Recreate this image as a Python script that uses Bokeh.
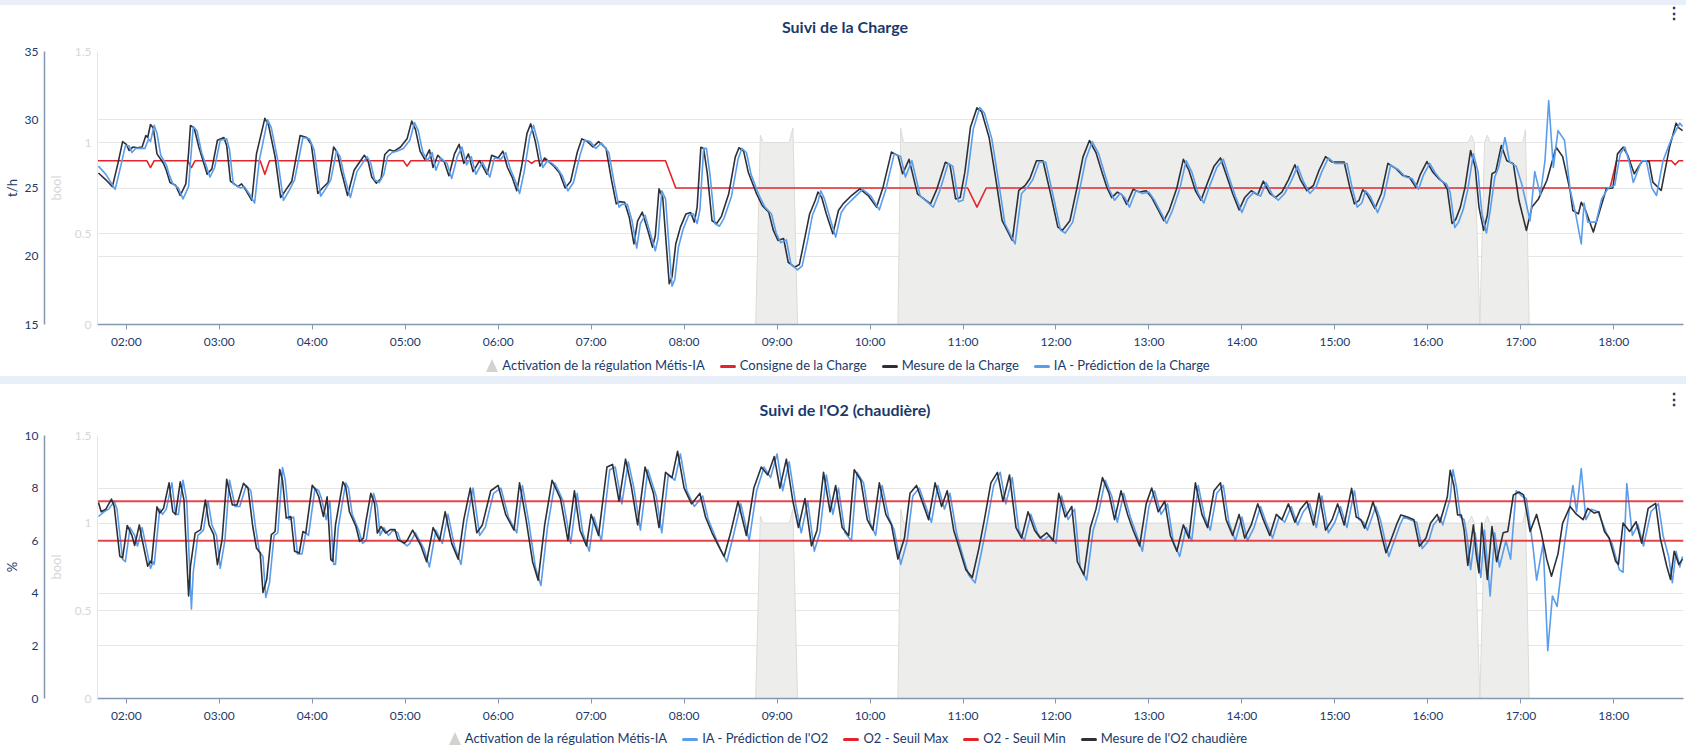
from bokeh.plotting import figure
from bokeh.models import (Range1d, LinearAxis, FixedTicker, Grid, Div, NumeralTickFormatter)
from bokeh.layouts import column
from bokeh.embed import file_html
from bokeh.resources import INLINE

# ---------------- data ----------------
hour_ticks = list(range(2, 19))
hour_labels = ["02:00", "03:00", "04:00", "05:00", "06:00", "07:00", "08:00", "09:00", "10:00",
               "11:00", "12:00", "13:00", "14:00", "15:00", "16:00", "17:00", "18:00"]

# Activation de la régulation Métis-IA (bool)
activation_t = [1.69, 8.77, 8.82, 8.85, 9.13, 9.17, 9.22, 10.30, 10.33, 10.36, 16.43, 16.47, 16.50,
                16.56, 16.61, 16.64, 16.67, 17.02, 17.05, 17.09, 18.75]
activation_v = [0, 0, 1.04, 1.0, 1.0, 1.08, 0, 0, 1.08, 1.0, 1.0, 1.04, 1.0,
                0, 1.0, 1.04, 1.0, 1.0, 1.07, 0, 0]

# Consigne de la Charge (t/h)
consigne_t = [1.69, 2.22, 2.26, 2.30, 2.66, 2.70, 2.74, 3.44, 3.49, 3.54, 4.98, 5.02, 5.06,
              6.32, 6.36, 6.40, 7.80, 7.91, 11.05, 11.15, 11.25, 17.96, 18.03, 18.62, 18.66, 18.70, 18.75]
consigne_v = [27, 27, 26.5, 27, 27, 26.5, 27, 27, 26.0, 27, 27, 26.6, 27,
              27, 26.8, 27, 27, 25, 25, 23.6, 25, 25, 27, 27, 26.7, 27, 27]

# Mesure de la Charge (t/h)
charge_t = [1.70, 1.78, 1.85, 1.91, 1.96, 2.00, 2.03, 2.07, 2.12, 2.17, 2.21, 2.23, 2.26, 2.29, 2.33,
            2.40, 2.43, 2.47, 2.53, 2.58, 2.64, 2.67, 2.69, 2.73, 2.78, 2.87, 2.92, 2.98, 3.05, 3.08,
            3.12, 3.20, 3.24, 3.29, 3.35, 3.40, 3.49, 3.53, 3.60, 3.66, 3.72, 3.78, 3.87, 3.94, 3.99,
            4.06, 4.11, 4.17, 4.23, 4.27, 4.31, 4.38, 4.45, 4.56, 4.60, 4.64, 4.69, 4.74, 4.78, 4.83,
            4.88, 4.95, 5.02, 5.07, 5.11, 5.16, 5.21, 5.26, 5.30, 5.35, 5.42, 5.47, 5.53, 5.58, 5.63,
            5.68, 5.73, 5.80, 5.88, 5.93, 6.00, 6.05, 6.10, 6.15, 6.20, 6.25, 6.31, 6.35, 6.40, 6.45,
            6.50, 6.55, 6.60, 6.66, 6.72, 6.78, 6.85, 6.90, 6.96, 7.02, 7.08, 7.16, 7.22, 7.27, 7.30,
            7.36, 7.41, 7.46, 7.50, 7.55, 7.61, 7.66, 7.69, 7.73, 7.77, 7.84, 7.87, 7.91, 7.96, 8.02,
            8.07, 8.11, 8.14, 8.18, 8.21, 8.25, 8.30, 8.35, 8.40, 8.48, 8.55, 8.59, 8.64, 8.69, 8.78,
            8.84, 8.91, 8.96, 9.01, 9.07, 9.12, 9.19, 9.24, 9.30, 9.35, 9.41, 9.44, 9.48, 9.53, 9.60,
            9.66, 9.71, 9.80, 9.89, 9.98, 10.07, 10.14, 10.23, 10.30, 10.35, 10.42, 10.51, 10.58, 10.65,
            10.72, 10.81, 10.86, 10.92, 10.97, 11.02, 11.08, 11.15, 11.20, 11.28, 11.35, 11.42, 11.53,
            11.60, 11.67, 11.72, 11.79, 11.86, 11.95, 12.02, 12.07, 12.15, 12.22, 12.29, 12.36, 12.43,
            12.50, 12.55, 12.60, 12.66, 12.71, 12.76, 12.83, 12.90, 12.97, 13.03, 13.10, 13.16, 13.22,
            13.30, 13.37, 13.43, 13.50, 13.56, 13.62, 13.70, 13.77, 13.83, 13.90, 13.97, 14.03, 14.10,
            14.17, 14.23, 14.30, 14.36, 14.43, 14.50, 14.57, 14.63, 14.70, 14.77, 14.83, 14.90, 14.97,
            15.03, 15.10, 15.16, 15.21, 15.26, 15.30, 15.35, 15.43, 15.50, 15.57, 15.66, 15.73, 15.80,
            15.87, 15.92, 15.99, 16.05, 16.12, 16.17, 16.21, 16.26, 16.30, 16.35, 16.40, 16.46, 16.51,
            16.55, 16.60, 16.64, 16.69, 16.73, 16.79, 16.85, 16.92, 16.98, 17.06, 17.12, 17.19, 17.28,
            17.38, 17.45, 17.53, 17.56, 17.62, 17.65, 17.70, 17.78, 17.85, 17.92, 17.99, 18.04, 18.10,
            18.15, 18.22, 18.27, 18.31, 18.38, 18.42, 18.51, 18.60, 18.67, 18.70, 18.74]
charge_v = [26.1, 25.6, 25.1, 26.8, 28.4, 28.2, 27.75, 28.0, 27.95, 28.0, 28.85, 28.7, 29.65, 29.4, 27.5,
            26.8, 26.3, 25.4, 25.2, 24.45, 25.3, 27.6, 29.58, 29.4, 28.0, 26.0, 26.4, 28.5, 28.7, 28.1,
            25.5, 25.1, 25.3, 24.8, 24.1, 27.5, 30.1, 29.6, 27.3, 24.3, 24.9, 25.5, 28.85, 28.7, 28.2,
            24.6, 25.0, 25.4, 28.0, 27.6, 26.3, 24.45, 26.3, 27.4, 27.0, 25.8, 25.35, 25.7, 27.45, 27.8,
            27.7, 28.0, 28.6, 29.9, 29.3, 27.7, 27.1, 27.8, 26.5, 27.4, 26.9, 25.9, 27.5, 28.2, 26.8,
            27.5, 26.2, 27.0, 26.0, 27.4, 27.2, 27.7, 26.5, 25.8, 24.8, 26.5, 29.0, 29.7, 28.4, 26.6,
            27.2, 26.9, 26.6, 26.1, 25.0, 25.5, 27.6, 28.6, 28.4, 28.0, 28.4, 27.9, 25.55, 23.84, 24.0,
            23.96, 22.86, 20.9, 22.6, 23.23, 21.89, 20.67, 21.5, 24.94, 24.3, 17.98, 18.5, 20.9, 22.13, 23.1,
            23.2, 22.5, 23.6, 27.99, 27.9, 26.04, 22.6, 22.4, 22.9, 24.57, 27.26, 27.95, 27.7, 26.16, 24.57,
            23.72, 23.23, 21.89, 21.16, 21.3, 19.56, 19.2, 19.4, 21.4, 23.1, 24.08, 24.7, 24.3, 23.1, 21.64,
            23.35, 23.84, 24.45, 24.94, 24.45, 23.6, 25.06, 27.63, 27.38, 26.04, 27.1, 24.57, 24.2, 23.84,
            24.94, 26.89, 26.7, 24.2, 24.3, 26.16, 29.45, 30.87, 30.6, 28.72, 25.8, 22.62, 21.16,
            24.82, 25.2, 25.7, 27.0, 27.0, 24.33, 22.13, 21.9, 22.6, 24.82, 27.26, 28.48, 27.6,
            26.04, 25.0, 24.3, 24.7, 24.5, 23.8, 24.9, 24.7, 24.8, 24.3, 23.4, 22.6, 23.4,
            25.0, 27.1, 26.3, 24.8, 24.1, 25.2, 26.6, 27.2, 26.0, 24.6, 23.4, 24.3, 24.8,
            24.5, 25.5, 24.6, 24.3, 24.7, 25.6, 26.7, 25.6, 24.8, 25.2, 26.3, 27.3, 26.9,
            26.9, 26.9, 25.06, 23.84, 24.1, 24.87, 24.5, 23.5, 24.6, 26.8, 26.4, 25.92, 25.8,
            25.06, 26.0, 26.94, 26.2, 25.67, 25.4, 24.9, 22.4, 22.7, 23.6, 25.06, 27.75, 26.5,
            23.6, 21.9, 23.0, 26.04, 26.2, 28.11, 27.0, 26.77, 24.08, 21.9, 23.6, 24.2, 25.55,
            27.99, 27.3, 24.82, 23.35, 23.1, 23.96, 23.3, 21.77, 23.35, 24.94, 25.0, 27.5, 27.99,
            27.4, 26.04, 26.6, 27.0, 26.95, 25.43, 24.82, 27.99, 29.75, 29.4, 29.21]

# IA - Prédiction de la Charge (t/h)
charge_pred_t = [1.70, 1.78, 1.88, 1.94, 1.99, 2.03, 2.06, 2.10, 2.15, 2.20, 2.24, 2.26, 2.30, 2.33, 2.37,
                 2.43, 2.46, 2.50, 2.56, 2.61, 2.67, 2.70, 2.72, 2.76, 2.81, 2.90, 2.95, 3.01, 3.08, 3.11,
                 3.15, 3.23, 3.27, 3.32, 3.38, 3.43, 3.52, 3.56, 3.63, 3.69, 3.75, 3.81, 3.90, 3.97, 4.02,
                 4.09, 4.14, 4.20, 4.26, 4.30, 4.34, 4.41, 4.48, 4.59, 4.63, 4.67, 4.72, 4.77, 4.81, 4.86,
                 4.91, 4.98, 5.05, 5.10, 5.14, 5.19, 5.24, 5.29, 5.33, 5.38, 5.45, 5.50, 5.56, 5.61, 5.66,
                 5.71, 5.76, 5.83, 5.91, 5.96, 6.03, 6.08, 6.13, 6.18, 6.23, 6.28, 6.34, 6.38, 6.43, 6.48,
                 6.53, 6.58, 6.63, 6.69, 6.75, 6.81, 6.88, 6.93, 6.99, 7.05, 7.11, 7.19, 7.25, 7.30, 7.33,
                 7.39, 7.44, 7.49, 7.53, 7.58, 7.64, 7.69, 7.72, 7.76, 7.80, 7.87, 7.90, 7.94, 7.99, 8.05,
                 8.10, 8.14, 8.17, 8.21, 8.24, 8.28, 8.33, 8.38, 8.43, 8.51, 8.58, 8.62, 8.67, 8.72, 8.81,
                 8.87, 8.94, 8.99, 9.04, 9.10, 9.15, 9.22, 9.27, 9.33, 9.38, 9.44, 9.47, 9.51, 9.56, 9.63,
                 9.69, 9.74, 9.83, 9.92, 10.01, 10.10, 10.17, 10.26, 10.33, 10.38, 10.45, 10.54, 10.61, 10.68,
                 10.75, 10.84, 10.89, 10.95, 11.00, 11.05, 11.11, 11.18, 11.23, 11.31, 11.38, 11.45, 11.56,
                 11.63, 11.70, 11.75, 11.82, 11.89, 11.98, 12.05, 12.10, 12.18, 12.25, 12.32, 12.39, 12.46,
                 12.53, 12.58, 12.63, 12.69, 12.74, 12.79, 12.86, 12.93, 13.00, 13.06, 13.13, 13.19, 13.25,
                 13.33, 13.40, 13.46, 13.53, 13.59, 13.65, 13.73, 13.80, 13.86, 13.93, 14.00, 14.06, 14.13,
                 14.20, 14.26, 14.33, 14.39, 14.46, 14.53, 14.60, 14.66, 14.73, 14.80, 14.86, 14.93, 15.00,
                 15.06, 15.13, 15.19, 15.24, 15.29, 15.33, 15.38, 15.46, 15.53, 15.60, 15.69, 15.76, 15.83,
                 15.90, 15.95, 16.02, 16.08, 16.15, 16.20, 16.24, 16.29, 16.33, 16.38, 16.43, 16.49, 16.54,
                 16.58, 16.63, 16.67, 16.72, 16.76, 16.83, 16.88, 16.95, 17.01, 17.10, 17.15, 17.21, 17.26,
                 17.30, 17.35, 17.40, 17.47, 17.53, 17.59, 17.65, 17.68, 17.72, 17.81, 17.87, 17.94, 18.01,
                 18.07, 18.12, 18.17, 18.21, 18.26, 18.30, 18.35, 18.41, 18.46, 18.53, 18.62, 18.71, 18.74]
charge_pred_v = [26.6, 26.0, 24.9, 26.6, 28.1, 28.1, 27.6, 27.9, 27.9, 27.9, 28.6, 28.4, 29.6, 29.0, 27.4,
                 26.7, 26.0, 25.3, 25.0, 24.2, 25.1, 27.8, 29.5, 29.2, 27.6, 25.8, 26.5, 28.5, 28.6, 27.8,
                 25.3, 25.0, 25.1, 24.6, 23.9, 27.0, 30.0, 29.4, 27.0, 24.1, 24.8, 25.6, 28.7, 28.6, 27.8,
                 24.4, 24.9, 25.6, 27.7, 27.3, 26.0, 24.3, 26.2, 27.3, 26.8, 25.6, 25.4, 26.0, 27.3, 27.6,
                 27.7, 27.9, 28.5, 29.8, 29.2, 27.6, 27.0, 27.6, 26.3, 27.2, 26.8, 25.7, 27.3, 28.0, 26.7,
                 27.3, 26.0, 26.9, 25.8, 27.2, 27.1, 27.6, 26.4, 25.6, 24.6, 26.2, 28.8, 29.6, 28.3, 26.5,
                 27.0, 26.8, 26.5, 25.9, 24.8, 25.4, 27.4, 28.5, 28.4, 27.9, 28.3, 27.6, 25.3, 23.6, 23.8,
                 23.8, 22.6, 20.6, 22.4, 23.0, 21.6, 20.4, 21.3, 24.8, 24.2, 17.8, 18.3, 20.7, 22.0, 23.0,
                 23.1, 22.4, 23.4, 27.9, 27.9, 25.9, 22.4, 22.2, 22.8, 24.4, 27.1, 27.9, 27.6, 26.0, 24.4,
                 23.6, 23.1, 21.7, 21.0, 21.2, 19.4, 19.0, 19.3, 21.2, 23.0, 24.0, 24.8, 24.2, 23.0, 21.4,
                 23.2, 23.7, 24.3, 24.9, 24.4, 23.4, 24.9, 27.5, 27.3, 25.8, 27.0, 24.4, 24.0, 23.6,
                 24.8, 26.8, 26.6, 24.0, 24.1, 26.0, 29.3, 30.9, 30.5, 28.6, 25.6, 22.4, 20.9,
                 24.6, 25.1, 25.6, 26.9, 26.9, 24.1, 21.9, 21.7, 22.5, 24.7, 27.1, 28.4, 27.5,
                 25.9, 24.8, 24.1, 24.6, 24.3, 23.6, 24.8, 24.6, 24.7, 24.1, 23.2, 22.4, 23.3,
                 24.9, 27.0, 26.2, 24.6, 23.9, 25.1, 26.5, 27.1, 25.8, 24.4, 23.2, 24.2, 24.7,
                 24.4, 25.4, 24.5, 24.1, 24.6, 25.5, 26.6, 25.5, 24.6, 25.1, 26.2, 27.2, 26.8,
                 26.8, 26.8, 24.9, 23.6, 23.9, 24.8, 24.4, 23.2, 24.4, 26.7, 26.3, 25.8, 25.7,
                 24.9, 25.9, 26.8, 26.1, 25.5, 25.3, 24.7, 22.1, 22.5, 23.4, 24.9, 27.5, 26.2,
                 23.2, 21.7, 23.3, 25.8, 26.5, 28.7, 26.9, 26.6, 25.3, 22.6, 26.2, 24.5, 27.0,
                 31.4, 26.5, 29.2, 28.5, 24.9, 23.1, 20.9, 23.9, 22.5, 22.5, 24.2, 25.0, 25.2,
                 27.5, 28.0, 26.8, 25.4, 26.3, 27.0, 27.0, 25.0, 24.45, 27.0, 28.6, 29.75, 29.5]

# Bottom panel: Mesure de l'O2 chaudière (%)
o2_t = [1.70, 1.73, 1.78, 1.84, 1.87, 1.93, 1.96, 2.01, 2.06, 2.09, 2.14, 2.17, 2.23, 2.26, 2.27,
        2.33, 2.36, 2.40, 2.46, 2.50, 2.53, 2.58, 2.62, 2.67, 2.69, 2.74, 2.80, 2.85, 2.89, 2.94,
        2.98, 3.03, 3.08, 3.14, 3.19, 3.26, 3.31, 3.36, 3.40, 3.44, 3.47, 3.51, 3.56, 3.60, 3.65,
        3.68, 3.72, 3.77, 3.81, 3.86, 3.90, 3.93, 4.00, 4.04, 4.07, 4.12, 4.16, 4.20, 4.22, 4.25,
        4.33, 4.36, 4.40, 4.47, 4.51, 4.55, 4.58, 4.63, 4.67, 4.70, 4.74, 4.79, 4.84, 4.89, 4.92,
        4.99, 5.02, 5.08, 5.17, 5.23, 5.30, 5.37, 5.43, 5.50, 5.57, 5.63, 5.70, 5.77, 5.83, 5.92,
        6.00, 6.08, 6.17, 6.23, 6.30, 6.37, 6.43, 6.50, 6.58, 6.67, 6.75, 6.82, 6.88, 6.95, 7.00,
        7.08, 7.17, 7.23, 7.30, 7.37, 7.43, 7.50, 7.58, 7.67, 7.73, 7.80, 7.87, 7.93, 8.00, 8.08,
        8.17, 8.23, 8.30, 8.37, 8.43, 8.50, 8.58, 8.67, 8.75, 8.83, 8.90, 8.97, 9.03, 9.10, 9.17,
        9.23, 9.30, 9.37, 9.43, 9.50, 9.57, 9.63, 9.70, 9.77, 9.83, 9.90, 9.97, 10.03, 10.10, 10.17,
        10.23, 10.30, 10.37, 10.43, 10.50, 10.57, 10.63, 10.70, 10.77, 10.83, 10.90, 10.97, 11.03,
        11.10, 11.17, 11.23, 11.30, 11.37, 11.43, 11.50, 11.57, 11.63, 11.70, 11.77, 11.83, 11.90,
        11.97, 12.03, 12.10, 12.17, 12.23, 12.30, 12.37, 12.43, 12.50, 12.57, 12.63, 12.70, 12.77,
        12.83, 12.90, 12.97, 13.03, 13.10, 13.17, 13.23, 13.30, 13.37, 13.43, 13.50, 13.57, 13.63,
        13.70, 13.77, 13.83, 13.90, 13.97, 14.03, 14.10, 14.17, 14.23, 14.30, 14.37, 14.43, 14.50,
        14.57, 14.63, 14.70, 14.77, 14.83, 14.90, 14.97, 15.03, 15.10, 15.18, 15.23, 15.28, 15.32,
        15.37, 15.41, 15.46, 15.51, 15.55, 15.60, 15.67, 15.71, 15.78, 15.85, 15.91, 15.98, 16.03,
        16.10, 16.13, 16.21, 16.24, 16.28, 16.32, 16.36, 16.39, 16.43, 16.49, 16.52, 16.55, 16.58,
        16.64, 16.69, 16.74, 16.81, 16.86, 16.92, 16.98, 17.03, 17.10, 17.17, 17.22, 17.28, 17.33,
        17.40, 17.45, 17.53, 17.60, 17.67, 17.72, 17.79, 17.84, 17.90, 17.95, 18.02, 18.05, 18.10,
        18.17, 18.24, 18.30, 18.37, 18.45, 18.50, 18.57, 18.61, 18.65, 18.70, 18.74]
o2_v = [7.45, 7.1, 7.2, 7.58, 7.3, 5.41, 5.35, 6.58, 6.2, 5.82, 6.6, 6.04, 5.03, 5.22, 5.15,
        7.29, 7.05, 7.23, 8.2, 7.1, 7.0, 8.24, 7.55, 3.9, 5.03, 6.29, 6.42, 7.55, 6.6, 6.23,
        5.09, 6.04, 8.33, 7.36, 7.36, 8.18, 7.99, 6.54, 5.72, 5.53, 4.03, 4.53, 6.23, 6.35, 8.71,
        8.3, 6.86, 6.92, 5.6, 5.53, 6.35, 6.29, 8.11, 7.92, 7.67, 6.92, 7.67, 5.28, 5.22, 6.6,
        8.24, 8.05, 7.1, 6.54, 5.97, 6.1, 6.79, 7.8, 7.42, 6.29, 6.54, 6.29, 6.42, 6.42, 6.04,
        5.91, 6.0, 6.4, 5.8, 5.2, 6.5, 6.0, 7.1, 5.9, 5.3, 6.8, 8.0, 6.3, 6.6, 7.9,
        8.1, 7.0, 6.4, 8.2, 6.8, 5.2, 4.5, 6.6, 8.3, 7.6, 6.0, 7.9, 6.4, 5.8, 7.0,
        6.2, 8.8, 8.9, 7.5, 9.1, 8.1, 6.6, 8.8, 7.8, 6.5, 8.6, 8.4, 9.4, 8.0, 7.4,
        7.8, 6.9, 6.3, 5.8, 5.4, 6.3, 7.5, 6.2, 8.0, 8.8, 8.5, 9.2, 8.0, 9.1, 7.5,
        6.5, 7.6, 5.8, 6.4, 8.6, 7.1, 8.1, 6.5, 6.2, 8.7, 8.3, 6.8, 6.4, 8.2, 7.0,
        6.6, 5.3, 6.1, 7.8, 8.1, 7.4, 6.8, 8.2, 7.3, 7.9, 6.4, 5.6, 4.9,
        4.6, 5.7, 6.8, 8.2, 8.6, 7.5, 8.5, 6.5, 6.1, 7.1, 6.4, 6.1, 6.3,
        6.0, 7.8, 6.9, 7.3, 5.2, 4.7, 6.5, 7.2, 8.4, 7.8, 6.8, 7.9, 7.0,
        6.4, 5.8, 7.4, 8.0, 7.1, 7.5, 6.2, 5.6, 6.6, 6.1, 8.2, 7.0, 6.5,
        7.9, 8.2, 6.8, 6.2, 7.0, 6.1, 6.6, 7.4, 6.8, 6.2, 7.0, 6.8, 7.4,
        6.7, 7.2, 7.5, 6.6, 7.8, 6.4, 6.8, 7.4, 6.6, 7.99, 6.9, 6.8, 6.48,
        7.0, 7.48, 6.9, 6.1, 5.54, 6.0, 6.67, 6.98, 6.9, 6.8, 5.79, 6.1, 6.67,
        7.0, 6.7, 7.67, 8.68, 8.1, 6.98, 6.98, 6.4, 5.06, 6.6, 5.5, 4.78, 6.67,
        4.53, 6.54, 5.2, 6.3, 6.35, 7.74, 7.85, 7.74, 6.35, 7.0, 6.3, 5.28, 4.65,
        5.5, 6.67, 7.3, 7.0, 6.8, 7.23, 7.05, 7.1, 6.35, 6.1, 5.22, 5.1, 6.67,
        6.35, 6.72, 5.91, 7.23, 7.42, 6.1, 5.03, 4.53, 5.6, 5.1, 5.3]

# Bottom panel: IA - Prédiction de l'O2 (%)
o2_pred_t = [1.70, 1.76, 1.81, 1.87, 1.90, 1.96, 1.99, 2.04, 2.09, 2.12, 2.17, 2.20, 2.26, 2.29, 2.30,
             2.36, 2.39, 2.43, 2.49, 2.53, 2.56, 2.61, 2.65, 2.70, 2.72, 2.77, 2.83, 2.88, 2.92, 2.97,
             3.01, 3.06, 3.11, 3.17, 3.22, 3.29, 3.34, 3.39, 3.43, 3.47, 3.50, 3.54, 3.59, 3.63, 3.68,
             3.71, 3.75, 3.80, 3.84, 3.89, 3.93, 3.96, 4.03, 4.07, 4.10, 4.15, 4.19, 4.23, 4.25, 4.28,
             4.36, 4.39, 4.43, 4.50, 4.54, 4.58, 4.61, 4.66, 4.70, 4.73, 4.77, 4.82, 4.87, 4.92, 4.95,
             5.02, 5.05, 5.11, 5.20, 5.26, 5.33, 5.40, 5.46, 5.53, 5.60, 5.66, 5.73, 5.80, 5.86, 5.95,
             6.03, 6.11, 6.20, 6.26, 6.33, 6.40, 6.46, 6.53, 6.61, 6.70, 6.78, 6.85, 6.91, 6.98, 7.03,
             7.11, 7.20, 7.26, 7.33, 7.40, 7.46, 7.53, 7.61, 7.70, 7.76, 7.83, 7.90, 7.96, 8.03, 8.11,
             8.20, 8.26, 8.33, 8.40, 8.46, 8.53, 8.61, 8.70, 8.78, 8.86, 8.93, 9.00, 9.06, 9.13, 9.20,
             9.26, 9.33, 9.40, 9.46, 9.53, 9.60, 9.66, 9.73, 9.80, 9.86, 9.93, 10.00, 10.06, 10.13, 10.20,
             10.26, 10.33, 10.40, 10.46, 10.53, 10.60, 10.66, 10.73, 10.80, 10.86, 10.93, 11.00, 11.06,
             11.13, 11.20, 11.26, 11.33, 11.40, 11.46, 11.53, 11.60, 11.66, 11.73, 11.80, 11.86, 11.93,
             12.00, 12.06, 12.13, 12.20, 12.26, 12.33, 12.40, 12.46, 12.53, 12.60, 12.66, 12.73, 12.80,
             12.86, 12.93, 13.00, 13.06, 13.13, 13.20, 13.26, 13.33, 13.40, 13.46, 13.53, 13.60, 13.66,
             13.73, 13.80, 13.86, 13.93, 14.00, 14.06, 14.13, 14.20, 14.26, 14.33, 14.40, 14.46, 14.53,
             14.60, 14.66, 14.73, 14.80, 14.86, 14.93, 15.00, 15.06, 15.13, 15.21, 15.26, 15.31, 15.35,
             15.40, 15.44, 15.49, 15.54, 15.58, 15.63, 15.70, 15.74, 15.81, 15.88, 15.94, 16.01, 16.06,
             16.13, 16.16, 16.24, 16.27, 16.31, 16.35, 16.39, 16.42, 16.46, 16.51, 16.54, 16.57, 16.61,
             16.67, 16.72, 16.77, 16.84, 16.89, 16.95, 17.01, 17.06, 17.13, 17.17, 17.24, 17.29, 17.34,
             17.39, 17.47, 17.56, 17.60, 17.65, 17.70, 17.76, 17.83, 17.92, 17.98, 18.06, 18.10, 18.14,
             18.20, 18.26, 18.32, 18.40, 18.48, 18.53, 18.59, 18.63, 18.67, 18.71, 18.74]
o2_pred_v = [6.92, 7.1, 7.2, 7.5, 7.2, 5.3, 5.2, 6.5, 6.2, 5.8, 6.5, 6.0, 4.95, 5.2, 5.1,
             7.2, 7.0, 7.2, 8.2, 7.0, 7.0, 8.3, 7.5, 3.4, 4.8, 6.2, 6.4, 7.5, 6.6, 6.2,
             4.95, 6.0, 8.3, 7.3, 7.3, 8.1, 7.9, 6.5, 5.6, 5.4, 3.84, 4.4, 6.2, 6.3, 8.78,
             8.3, 6.8, 6.9, 5.5, 5.5, 6.3, 6.2, 8.0, 7.9, 7.6, 6.8, 7.5, 5.1, 5.1, 6.5,
             8.2, 8.0, 7.0, 6.4, 5.9, 6.0, 6.7, 7.8, 7.3, 6.2, 6.5, 6.2, 6.4, 6.3, 6.0,
             5.8, 5.9, 6.3, 5.7, 5.0, 6.4, 5.9, 7.0, 5.8, 5.1, 6.7, 8.0, 6.2, 6.5, 7.8,
             8.0, 6.9, 6.3, 8.1, 6.7, 5.0, 4.3, 6.5, 8.2, 7.5, 5.9, 7.8, 6.3, 5.6, 6.9,
             6.0, 8.7, 8.8, 7.4, 9.0, 8.0, 6.4, 8.7, 7.7, 6.3, 8.5, 8.3, 9.3, 7.9, 7.3,
             7.7, 6.8, 6.2, 5.6, 5.2, 6.2, 7.4, 6.0, 7.9, 8.8, 8.4, 9.3, 7.9, 9.0, 7.4,
             6.3, 7.5, 5.6, 6.3, 8.5, 7.0, 8.0, 6.3, 6.0, 8.6, 8.2, 6.7, 6.2, 8.1, 6.9,
             6.4, 5.1, 6.0, 7.7, 8.0, 7.3, 6.7, 8.1, 7.2, 7.8, 6.3, 5.4, 4.7,
             4.4, 5.6, 6.7, 8.1, 8.6, 7.4, 8.4, 6.4, 6.0, 7.0, 6.3, 6.0, 6.2,
             5.9, 7.7, 6.8, 7.2, 5.0, 4.5, 6.4, 7.1, 8.3, 7.7, 6.7, 7.8, 6.9,
             6.3, 5.6, 7.3, 7.9, 7.0, 7.4, 6.0, 5.4, 6.5, 6.0, 8.1, 6.9, 6.4,
             7.8, 8.1, 6.7, 6.0, 6.9, 6.0, 6.5, 7.3, 6.7, 6.1, 6.9, 6.7, 7.3,
             6.6, 7.1, 7.4, 6.5, 7.7, 6.3, 6.7, 7.3, 6.5, 7.9, 6.8, 6.7, 6.4,
             6.9, 7.3, 6.8, 6.0, 5.4, 5.9, 6.6, 6.9, 6.8, 6.7, 5.7, 6.0, 6.6,
             6.9, 6.6, 7.6, 8.7, 8.0, 6.9, 6.8, 6.2, 4.9, 6.3, 5.4, 4.6, 6.4,
             3.9, 6.3, 5.0, 6.0, 5.3, 7.9, 7.7, 7.6, 5.8, 4.5, 5.9, 1.82, 3.9,
             3.5, 5.9, 8.1, 7.1, 8.74, 6.8, 7.2, 7.1, 6.3, 5.9, 4.9, 4.8, 8.17,
             6.2, 6.6, 5.8, 7.1, 7.4, 6.2, 5.4, 4.4, 5.6, 5.0, 5.4]

# Bottom panel thresholds (%)
seuil_t = [1.69, 18.75]
seuil_max_v = [7.5, 7.5]
seuil_min_v = [6.0, 6.0]

# ---------------- style ----------------
FONT = "Lato"
NAVY = "#1b3a6b"
AXIS_LINE = "#8598b2"
GRID = "#e6e6e6"
BOOL_GREY = "#d6d6d6"
RED = "#e3242b"
BLACK = "#2f3037"
BLUE = "#5b9ded"
AREA_FILL = "#ededeb"
AREA_LINE = "#dcdbd7"
BAND = "#e8eff9"
W = 1686


def make_fig(height, top, vrange, vticks, vlabel):
    p = figure(width=W, height=height, x_range=Range1d(1.69, 18.75), y_range=Range1d(0, 1.5),
               output_backend="svg", toolbar_location=None, title=None,
               min_border_left=88, min_border_right=3, min_border_top=top, min_border_bottom=28)
    p.outline_line_color = None
    p.background_fill_color = "white"
    p.border_fill_color = "white"

    # bool axis (inner)
    ya = p.yaxis[0]
    ya.ticker = FixedTicker(ticks=[0, 0.5, 1, 1.5])
    ya.formatter = NumeralTickFormatter(format="0.[0]")
    ya.axis_label = "bool"
    ya.axis_label_text_font = FONT
    ya.axis_label_text_font_size = "13px"
    ya.axis_label_text_font_style = "normal"
    ya.axis_label_text_color = BOOL_GREY
    ya.axis_label_standoff = 8
    ya.major_label_text_font = FONT
    ya.major_label_text_font_size = "12px"
    ya.major_label_text_color = BOOL_GREY
    ya.major_label_standoff = 6
    ya.major_tick_in = 0
    ya.major_tick_out = 0
    ya.minor_tick_in = 0
    ya.minor_tick_out = 0
    ya.axis_line_color = GRID
    p.ygrid[0].grid_line_color = GRID
    p.xgrid[0].visible = False

    # value axis (outer)
    p.extra_y_ranges = {"v": Range1d(*vrange)}
    va = LinearAxis(y_range_name="v", ticker=FixedTicker(ticks=vticks), axis_label=vlabel)
    va.axis_label_text_font = FONT
    va.axis_label_text_font_size = "13px"
    va.axis_label_text_font_style = "normal"
    va.axis_label_text_color = NAVY
    va.axis_label_standoff = 2
    va.major_label_text_font = FONT
    va.major_label_text_font_size = "12px"
    va.major_label_text_color = NAVY
    va.major_label_standoff = 6
    va.major_tick_in = 0
    va.major_tick_out = 0
    va.minor_tick_in = 0
    va.minor_tick_out = 0
    va.axis_line_color = AXIS_LINE
    va.axis_line_width = 1.5
    p.add_layout(va, "left")
    p.add_layout(Grid(dimension=1, ticker=va.ticker, y_range_name="v", grid_line_color=GRID))

    xa = p.xaxis[0]
    xa.ticker = FixedTicker(ticks=hour_ticks)
    xa.major_label_overrides = {float(h): lab for h, lab in zip(hour_ticks, hour_labels)}
    xa.major_label_text_font = FONT
    xa.major_label_text_font_size = "12px"
    xa.major_label_text_color = NAVY
    xa.major_label_standoff = 4
    xa.axis_line_color = AXIS_LINE
    xa.axis_line_width = 1.5
    xa.major_tick_line_color = AXIS_LINE
    xa.major_tick_in = 0
    xa.major_tick_out = 5
    xa.minor_tick_line_color = None
    return p


def title_div(text, height, title_top, menu_top):
    html = ('<div style="position:relative;width:%dpx;height:%dpx;font-family:Lato;color:%s;">'
            '<div style="position:absolute;left:0;top:%dpx;width:%dpx;text-align:center;padding-left:4px;'
            'box-sizing:border-box;font-size:16px;font-weight:bold;line-height:20px;">%s</div>'
            '<div style="position:absolute;right:4px;top:%dpx;font-size:16px;font-weight:bold;'
            'line-height:16px;">&#8942;</div></div>'
            % (W, height, NAVY, title_top, W, text, menu_top))
    return Div(text=html, width=W, height=height, margin=0)


def legend_div(entries, height, pad_top):
    parts = []
    for i, (label, kind, color) in enumerate(entries):
        ml = "0" if i == 0 else "15px"
        if kind == "tri":
            sym = ('<span style="display:inline-block;width:0;height:0;border-left:6px solid transparent;'
                   'border-right:6px solid transparent;border-bottom:13px solid #d2d2ce;'
                   'vertical-align:-2px;margin:0 4px 0 %s;"></span>' % ml)
        else:
            sym = ('<span style="display:inline-block;width:16px;height:3px;border-radius:2px;background:%s;'
                   'vertical-align:middle;margin:0 4px 0 %s;"></span>' % (color, ml))
        parts.append(sym + '<span>%s</span>' % label)
    inner_h = height - pad_top
    html = ('<div style="width:%dpx;height:%dpx;text-align:center;font-family:Lato;font-size:13px;color:%s;'
            'line-height:%dpx;padding-top:%dpx;white-space:nowrap;padding-left:10px;box-sizing:border-box;'
            'overflow:hidden;">%s</div>'
            % (W, height, NAVY, inner_h, pad_top, "".join(parts)))
    return Div(text=html, width=W, height=height, margin=0)


# ---------------- top panel ----------------
band_top = Div(text="", width=W, height=5, margin=0, styles={"background-color": BAND})
t1 = title_div("Suivi de la Charge", 35, 12, 0)
p1 = make_fig(312, 11, (15, 35), [15, 20, 25, 30, 35], "t/h")
p1.varea(x=activation_t, y1=0, y2=activation_v, fill_color=AREA_FILL)
p1.line(activation_t, activation_v, line_color=AREA_LINE, line_width=1)
p1.line(consigne_t, consigne_v, y_range_name="v", line_color=RED, line_width=1.6, line_join="round")
p1.line(charge_t, charge_v, y_range_name="v", line_color=BLACK, line_width=1.6, line_join="round")
p1.line(charge_pred_t, charge_pred_v, y_range_name="v", line_color=BLUE, line_width=1.6, line_join="round")
leg1 = legend_div([("Activation de la régulation Métis-IA", "tri", None),
                   ("Consigne de la Charge", "line", RED),
                   ("Mesure de la Charge", "line", BLACK),
                   ("IA - Prédiction de la Charge", "line", BLUE)], 24, 2)

sep = Div(text="", width=W, height=8, margin=0, styles={"background-color": BAND})

# ---------------- bottom panel ----------------
t2 = title_div("Suivi de l'O2 (chaudière)", 41, 16, 7)
p2 = make_fig(301, 10, (0, 10), [0, 2, 4, 6, 8, 10], "%")
p2.varea(x=activation_t, y1=0, y2=activation_v, fill_color=AREA_FILL)
p2.line(activation_t, activation_v, line_color=AREA_LINE, line_width=1)
p2.line(o2_pred_t, o2_pred_v, y_range_name="v", line_color=BLUE, line_width=1.6, line_join="round")
p2.line(seuil_t, seuil_max_v, y_range_name="v", line_color=RED, line_width=2, line_alpha=0.85)
p2.line(seuil_t, seuil_min_v, y_range_name="v", line_color=RED, line_width=2, line_alpha=0.85)
p2.line(o2_t, o2_v, y_range_name="v", line_color=BLACK, line_width=1.6, line_join="round")
leg2 = legend_div([("Activation de la régulation Métis-IA", "tri", None),
                   ("IA - Prédiction de l'O2", "line", BLUE),
                   ("O2 - Seuil Max", "line", RED),
                   ("O2 - Seuil Min", "line", RED),
                   ("Mesure de l'O2 chaudière", "line", BLACK)], 21, 3)

layout = column(band_top, t1, p1, leg1, sep, t2, p2, leg2, spacing=0)

open("out.html", "w").write(file_html(layout, INLINE))
